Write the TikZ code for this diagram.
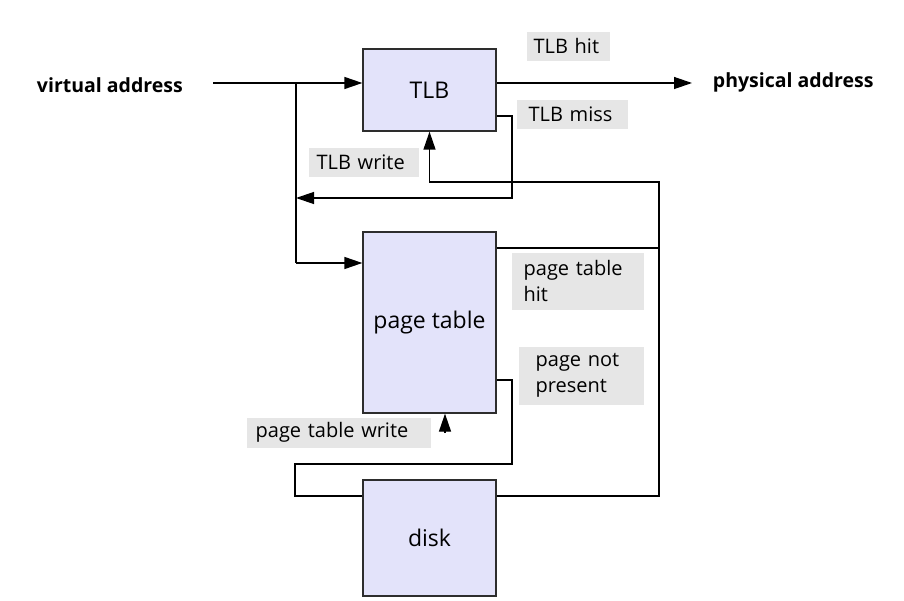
\documentclass[tikz,border=0pt]{standalone}
\usepackage{fontspec}
\setmainfont{Open Sans}
\usepackage{xcolor}
\usepackage{tikz}
\usetikzlibrary{
	arrows.meta,positioning
}
\definecolor{boxfill}{RGB}{227,227,250}
\definecolor{lblfill}{RGB}{230,230,230}
\definecolor{edgegray}{RGB}{45,45,45}
\tikzset{
	unit/.style={draw=edgegray,line width=1.3pt,fill=boxfill,minimum width=133pt,font=\fontsize{23}{26}\selectfont},
	lbl/.style={fill=lblfill,anchor=north west,align=left,inner ysep=0pt,font=\fontsize{20}{26}\selectfont},
	tag/.style={font=\fontsize{19.5}{24}\selectfont\bfseries}
}
\begin{document}
\begin{tikzpicture}[x=1pt,y=-1pt,line width=1.3pt,>={Triangle[length=18pt,width=12pt]}]
		\useasboundingbox (0,0) rectangle (904,601);
		\node[unit,minimum height=82pt] (TLB) at (429.5,90) {TLB};
		\node[unit,minimum height=181pt] (PT) at (429.5,322.5) {page table};
		\node[unit,minimum height=116pt] (disk) at (429.5,538) {disk};
		%
		\node[tag,anchor=west] (VA) at (33,85) {virtual address};
		\node[tag,anchor=west] (PA) at (709,82) {physical address};
		%
		\node[lbl,inner xsep=7pt,text width=69pt,minimum height=29pt] (hit) at (526,31) {TLB hit};
		\node[lbl,inner xsep=12pt,text width=87pt,minimum height=29pt] (miss) at (516,99) {TLB miss};
		\node[lbl,inner xsep=8pt,text width=94pt,minimum height=29pt] (write) at (308,147) {TLB write};
		\node[lbl,inner xsep=12pt,text width=108pt,minimum height=57pt] (pthit) at (511,252) {page table\\hit};
		\node[lbl,inner xsep=17pt,text width=91pt,minimum height=58pt] (absent) at (518,346) {page not\\present};
		\node[lbl,inner xsep=9pt,text width=166pt,minimum height=30pt] (ptwrite) at (246,417) {page table write};
		%
		\coordinate (vin) at (213,83);
		\coordinate (split) at (296,83);
		\coordinate (pout) at (692,83);
		\coordinate (ptin) at (296,263);
		\coordinate (m1) at (512,116);
		\coordinate (m2) at (512,198);
		\coordinate (w1) at (659,182);
		\coordinate (w2) at (659,496);
		\coordinate (h1) at (659,248);
		\coordinate (n1) at (512,380);
		\coordinate (n2) at (512,464);
		\coordinate (n3) at (295,464);
		\coordinate (n4) at (295,496);
		\coordinate (ptw) at (445,433);
		%
		\path[every edge/.style={draw,->}]
		% lookup
		(vin) edge (vin -| TLB.west)
		(vin -| TLB.east) edge (pout)
		(ptin) edge (ptin -| PT.west)
		(ptw) edge (ptw |- PT.south);
		% tlb miss
		\draw[->] (m1 -| TLB.east) -- (m1) -- (m2) -- (m2 -| split);
		\draw (split) -- (ptin);
		% tlb write
		\draw[->] (w2 -| disk.east) -- (w2) -- (w1) -- (w1 -| TLB.south) -- (TLB.south);
		\draw (h1 -| PT.east) -- (h1);
		% page not present
		\draw (n1 -| PT.east) -- (n1) -- (n2) -- (n3) -- (n4) -- (n4 -| disk.west);
	\end{tikzpicture}
\end{document}
